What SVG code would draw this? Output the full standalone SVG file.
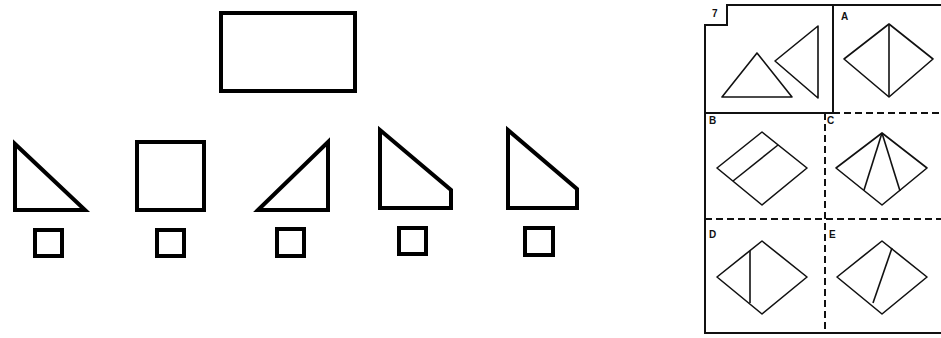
<svg xmlns="http://www.w3.org/2000/svg" width="941" height="338" viewBox="0 0 941 338">
<style>
.thick{fill:none;stroke:#000;stroke-width:4;stroke-linejoin:miter}
.thin{fill:none;stroke:#111;stroke-width:1.6;stroke-linejoin:round}
.frame{fill:none;stroke:#111;stroke-width:2}
.dash{fill:none;stroke:#111;stroke-width:2;stroke-dasharray:7 4}
.lbl{font-family:"Liberation Sans",Arial,sans-serif;font-weight:bold;font-size:10px;fill:#111}
</style>
<rect width="941" height="338" fill="#fff"/>
<g id="left-figure">
<g id="big-rect"><rect class="thick" x="221" y="13" width="134" height="78"/></g>
<g id="shape1"><polygon class="thick" points="15,144 15,210 85,210"/><rect class="thick" x="35" y="230" width="27" height="26"/></g>
<g id="shape2"><rect class="thick" x="137" y="142" width="67" height="68"/><rect class="thick" x="157" y="230" width="27" height="26"/></g>
<g id="shape3"><polygon class="thick" points="258,210 328,142 328,210"/><rect class="thick" x="277" y="229" width="27" height="27"/></g>
<g id="shape4"><polygon class="thick" points="380,130 451,190 451,208 380,208"/><rect class="thick" x="399" y="228" width="27" height="26"/></g>
<g id="shape5"><polygon class="thick" points="508,130 577,189 577,208 508,208"/><rect class="thick" x="525" y="228" width="28" height="27"/></g>
</g>
<g id="right-figure">
<g id="frame">
<polyline class="frame" points="941,5 727,5 727,25 705,25 705,333 941,333"/>
<line class="frame" x1="833" y1="5" x2="833" y2="113"/>
<line class="frame" x1="705" y1="113" x2="833" y2="113"/>
<line class="dash" x1="833" y1="113" x2="941" y2="113"/>
<line class="dash" x1="825" y1="113" x2="825" y2="333"/>
<line class="dash" x1="705" y1="219" x2="941" y2="219"/>
</g>
<g id="question">
<text class="lbl" x="712" y="17">7</text>
<polygon class="thin" points="757,53 722,97 792,97"/>
<polygon class="thin" points="775,61 818,26 818,98"/>
</g>
<g id="option-A">
<text class="lbl" x="841" y="20">A</text>
<polygon class="thin" points="844,59 889,24 933,59 889,97"/>
<line class="thin" x1="889" y1="24" x2="889" y2="97"/>
</g>
<g id="option-B">
<text class="lbl" x="709" y="124">B</text>
<polygon class="thin" points="717,168 762,132 807,168 762,205"/>
<line class="thin" x1="733" y1="181" x2="778" y2="145"/>
</g>
<g id="option-C">
<text class="lbl" x="827" y="124">C</text>
<polygon class="thin" points="836,168 882,133 927,168 882,205"/>
<line class="thin" x1="882" y1="133" x2="864" y2="190"/>
<line class="thin" x1="882" y1="133" x2="900" y2="191"/>
</g>
<g id="option-D">
<text class="lbl" x="709" y="238">D</text>
<polygon class="thin" points="717,277 762,241 807,277 762,314"/>
<line class="thin" x1="750" y1="251" x2="750" y2="303"/>
</g>
<g id="option-E">
<text class="lbl" x="829" y="238">E</text>
<polygon class="thin" points="837,277 882,241 927,277 882,314"/>
<line class="thin" x1="892" y1="248" x2="873" y2="303"/>
</g>
</g>
</svg>
